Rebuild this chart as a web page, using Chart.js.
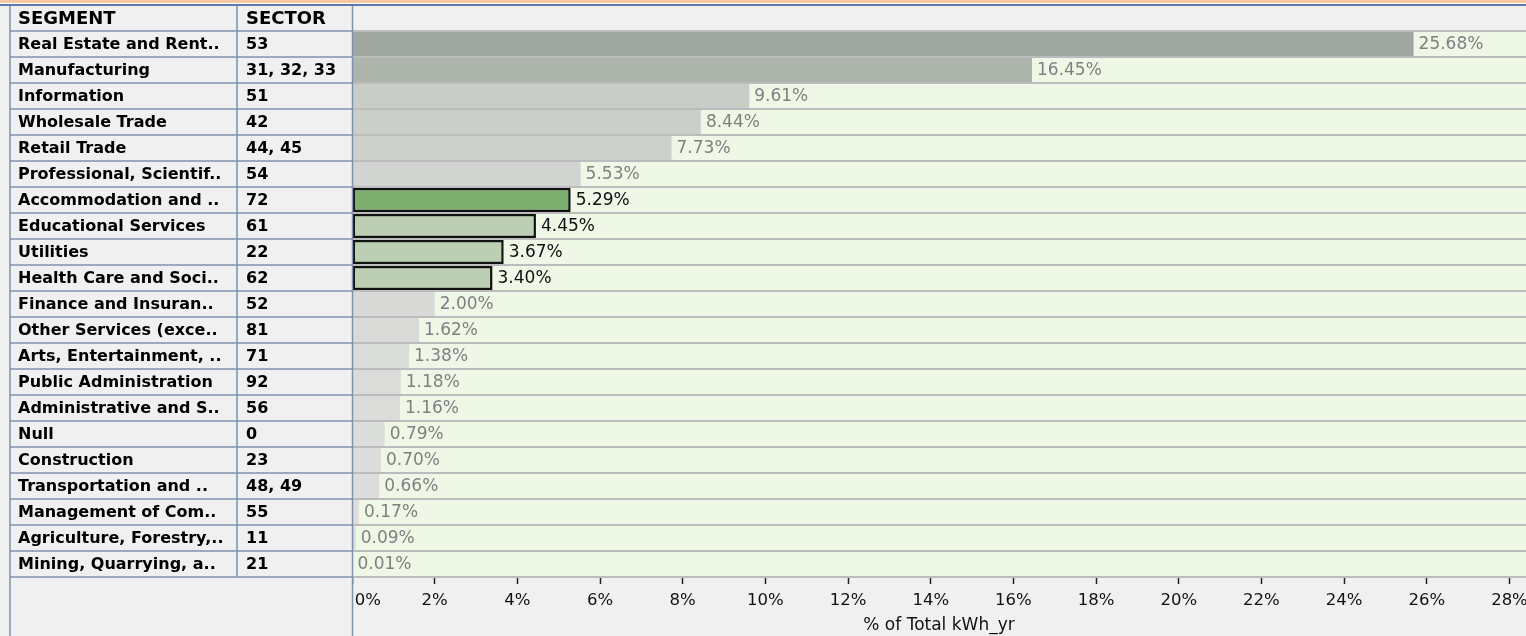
<!DOCTYPE html>
<html>
<head>
<meta charset="utf-8">
<script src="https://cdn.jsdelivr.net/npm/chart.js@4.4.0/dist/chart.umd.min.js"></script>
<style>
  html, body { margin: 0; padding: 0; background: #f0f0f0; overflow: hidden; }
  #wrap { width: 1526px; height: 636px; overflow: hidden; }
</style>
</head>
<body>
<div id="wrap"><canvas id="chart" width="1540" height="636"></canvas></div>
<script>
const segments = [
  "Real Estate and Rent..", "Manufacturing", "Information", "Wholesale Trade",
  "Retail Trade", "Professional, Scientif..", "Accommodation and ..", "Educational Services",
  "Utilities", "Health Care and Soci..", "Finance and Insuran..", "Other Services (exce..",
  "Arts, Entertainment, ..", "Public Administration", "Administrative and S..", "Null",
  "Construction", "Transportation and ..", "Management of Com..", "Agriculture, Forestry,..",
  "Mining, Quarrying, a.."
];
const sectors = [
  "53", "31, 32, 33", "51", "42", "44, 45", "54", "72", "61", "22", "62", "52",
  "81", "71", "92", "56", "0", "23", "48, 49", "55", "11", "21"
];
const shares = [
  25.68, 16.45, 9.61, 8.44, 7.73, 5.53, 5.29, 4.45, 3.67, 3.40, 2.00,
  1.62, 1.38, 1.18, 1.16, 0.79, 0.70, 0.66, 0.17, 0.09, 0.01
];
const highlighted = ["Accommodation and ..", "Educational Services", "Utilities", "Health Care and Soci.."];
const xTicks = [0, 2, 4, 6, 8, 10, 12, 14, 16, 18, 20, 22, 24, 26, 28];
const headers = ["SEGMENT", "SECTOR"];

// grey ramp for the non-selected bars
const stops = [[0, [221, 222, 220]], [10, [200, 204, 198]], [16.45, [172, 180, 172]], [25.68, [160, 167, 161]]];
function greyFor(v) {
  for (let i = 1; i < stops.length; i++) {
    if (v <= stops[i][0]) {
      const a = stops[i - 1], b = stops[i];
      const t = (v - a[0]) / (b[0] - a[0]);
      const c = a[1].map((x, k) => Math.round(x + (b[1][k] - x) * t));
      return `rgb(${c.join(",")})`;
    }
  }
  return "rgb(160,167,161)";
}
function isHi(i) { return highlighted.includes(segments[i]); }
function barColor(i) {
  if (!isHi(i)) return greyFor(shares[i]);
  return i === 6 ? "#7db070" : "#bccfb4";
}

const FONT = '"DejaVu Sans", Verdana, sans-serif';
const LINE = "#7f91ad";

const backdrop = {
  id: "backdrop",
  beforeDraw(c) {
    const ctx = c.ctx, a = c.chartArea;
    ctx.save();
    ctx.fillStyle = "#f0f0f0";
    ctx.fillRect(0, 0, c.width, c.height);
    ctx.fillStyle = "#eff8e7";
    ctx.fillRect(a.left, a.top, a.right - a.left, a.bottom - a.top);
    ctx.fillStyle = "#f6c9a2";
    ctx.fillRect(0, 0, c.width, 3);
    ctx.fillStyle = "#fbfbfb";
    ctx.fillRect(0, 3, c.width, 1);
    ctx.fillStyle = "#5d7aa8";
    ctx.fillRect(0, 4, c.width, 2);
    ctx.restore();
  }
};

const valueLabels = {
  id: "valueLabels",
  afterDatasetsDraw(c) {
    const ctx = c.ctx;
    const meta = c.getDatasetMeta(0);
    ctx.save();
    ctx.font = "17px " + FONT;
    ctx.textBaseline = "middle";
    meta.data.forEach((bar, i) => {
      ctx.fillStyle = isHi(i) ? "#111" : "#808080";
      ctx.fillText(shares[i].toFixed(2) + "%", bar.x + 5, bar.y + 1);
    });
    ctx.restore();
  }
};

const table = {
  id: "table",
  afterDraw(c) {
    const ctx = c.ctx, y = c.scales.y, a = c.chartArea;
    const half = (y.getPixelForValue(1) - y.getPixelForValue(0)) / 2;
    const x0 = 10, x1 = 237, x2 = 352;
    ctx.save();
    ctx.fillStyle = "#f0f0f0";
    ctx.fillRect(x0, 6, x2 - x0, c.height - 6);
    ctx.fillStyle = "#000";
    ctx.textBaseline = "middle";
    ctx.font = "bold 18px " + FONT;
    ctx.fillText(headers[0], 18, 19);
    ctx.fillText(headers[1], 246, 19);
    ctx.font = "bold 16px " + FONT;
    segments.forEach((s, i) => {
      const yc = y.getPixelForValue(i) + 1;
      ctx.fillText(s, 18, yc);
      ctx.fillText(sectors[i], 246, yc);
    });
    ctx.strokeStyle = LINE;
    ctx.lineWidth = 1.5;
    ctx.beginPath();
    for (let i = 0; i <= segments.length; i++) {
      const yy = Math.round(y.getPixelForValue(0) - half + i * 2 * half);
      ctx.moveTo(x0, yy);
      ctx.lineTo(x2, yy);
    }
    ctx.moveTo(x0, 6); ctx.lineTo(x0, c.height);
    ctx.moveTo(x1, 6); ctx.lineTo(x1, a.bottom);
    ctx.moveTo(x2 + 0.5, 6); ctx.lineTo(x2 + 0.5, c.height);
    ctx.stroke();
    ctx.restore();
  }
};

new Chart(document.getElementById("chart"), {
  type: "bar",
  data: {
    labels: segments,
    datasets: [{
      label: "% of Total kWh_yr",
      data: shares,
      backgroundColor: ctx => barColor(ctx.dataIndex),
      borderColor: "#111",
      borderWidth: ctx => isHi(ctx.dataIndex) ? 2.5 : 0,
      borderSkipped: false,
      barPercentage: 0.92,
      categoryPercentage: 1
    }]
  },
  options: {
    indexAxis: "y",
    responsive: false,
    animation: false,
    devicePixelRatio: 1,
    layout: { padding: { left: 352, right: 14, top: 31, bottom: 0 } },
    plugins: { legend: { display: false }, tooltip: { enabled: false } },
    scales: {
      x: {
        min: 0,
        max: 28.4,
        afterBuildTicks: s => { s.ticks = xTicks.map(v => ({ value: v })); },
        afterFit: s => { s.height = 59; },
        ticks: {
          color: "#111",
          font: { family: FONT, size: 16.5 },
          padding: 7,
          maxRotation: 0,
          callback: v => (v === 0 ? "      " : "") + v + "%"
        },
        grid: { drawOnChartArea: false, tickLength: 7, tickColor: "#222", tickWidth: 1.5 },
        border: { display: false },
        title: {
          display: true,
          text: "% of Total kWh_yr",
          color: "#111",
          font: { family: FONT, size: 17 },
          padding: { top: 0, bottom: 0 }
        }
      },
      y: {
        afterFit: s => { s.width = 0; },
        ticks: { display: false },
        grid: { offset: true, color: "#bcbcbc", lineWidth: 2, drawTicks: false },
        border: { display: false }
      }
    }
  },
  plugins: [backdrop, valueLabels, table]
});
</script>
</body>
</html>
